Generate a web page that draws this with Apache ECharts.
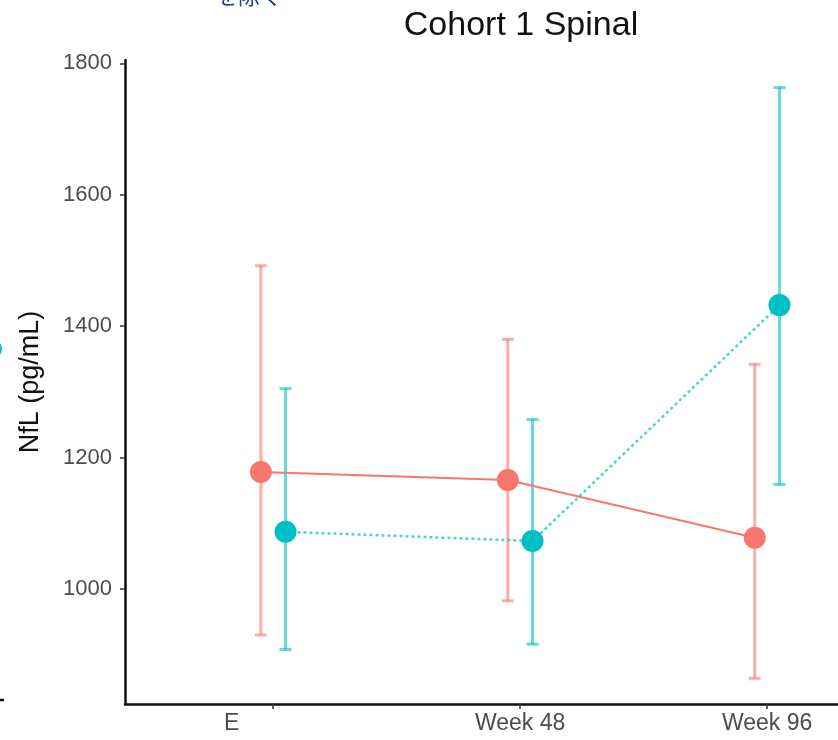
<!DOCTYPE html>
<html>
<head>
<meta charset="utf-8">
<script src="https://cdn.jsdelivr.net/npm/echarts@6/dist/echarts.min.js"></script>
<style>
    html, body { margin: 0; padding: 0; background: #fff; }
    #main { width: 838px; height: 740px; }
</style>
</head>
<body>
<div id="main"></div>
<script>
var categories = ['E', 'Week 48', 'Week 96'];
var redMean = [1178, 1166, 1078];
var redLow = [930, 982, 864];
var redHigh = [1492, 1380, 1342];
var cyanMean = [1087, 1073, 1432];
var cyanLow = [908, 916, 1159];
var cyanHigh = [1305, 1258, 1763];
var yTicks = [1000, 1200, 1400, 1600, 1800];

var RED = '#F8766D';
var CYAN = '#00BFC4';
var DODGE = 0.05;

function pairs(values, shift) {
    var out = [];
    for (var i = 0; i < values.length; i++) {
        out.push([i + shift, values[i]]);
    }
    return out;
}

function barData(low, high, shift) {
    var out = [];
    for (var i = 0; i < low.length; i++) {
        out.push([i + shift, low[i], high[i]]);
    }
    return out;
}

function errorBar(color) {
    return function (params, api) {
        var x = api.value(0);
        var lo = api.coord([x, api.value(1)]);
        var hi = api.coord([x, api.value(2)]);
        var w = 6;
        var style = { stroke: color, lineWidth: 3, fill: null };
        return {
            type: 'group',
            children: [
                { type: 'line', shape: { x1: hi[0], y1: hi[1], x2: lo[0], y2: lo[1] }, style: style },
                { type: 'line', shape: { x1: hi[0] - w, y1: hi[1], x2: hi[0] + w, y2: hi[1] }, style: style },
                { type: 'line', shape: { x1: lo[0] - w, y1: lo[1], x2: lo[0] + w, y2: lo[1] }, style: style }
            ]
        };
    };
}

var myChart = echarts.init(document.getElementById('main'));
var font = '"Liberation Sans", Arial, sans-serif';

var option = {
    animation: false,
    title: {
        text: 'Cohort 1 Spinal',
        left: 516,
        top: 4,
        textAlign: 'center',
        textStyle: { fontFamily: font, fontSize: 34, fontWeight: 'normal', color: '#111' }
    },
    graphic: [
        { type: 'text', left: 216, top: -15, style: { text: 'を除く', fontSize: 22, fill: '#1b3c8c', fontFamily: '"Noto Sans CJK JP", sans-serif' } },
        { type: 'circle', shape: { cx: -8, cy: 349, r: 10 }, style: { fill: CYAN } },
        { type: 'line', shape: { x1: 0, y1: 700, x2: 4, y2: 700 }, style: { stroke: '#111', lineWidth: 2.5 } }
    ],
    grid: { left: 125, top: 60, right: 0, height: 644, containLabel: false },
    xAxis: {
        type: 'value',
        min: -0.6,
        max: 2.287,
        splitLine: { show: false },
        axisLine: { lineStyle: { color: '#111', width: 2.5 } },
        axisTick: { customValues: [0, 1, 2], length: 5, lineStyle: { color: '#333', width: 1.5 } },
        axisLabel: {
            customValues: [0, 1, 2],
            margin: 8,
            fontFamily: font,
            fontSize: 23,
            color: '#4d4d4d',
            formatter: function (v) {
                var i = Math.round(v);
                // first label sits left of its tick in the picture
                return i === 0 ? '{first|' + categories[i] + '}' : categories[i];
            },
            rich: {
                first: { fontFamily: font, fontSize: 23, color: '#4d4d4d', padding: [0, 83, 0, 0] }
            }
        }
    },
    yAxis: {
        type: 'value',
        min: 825,
        max: 1805,
        name: 'NfL (pg/mL)',
        nameLocation: 'middle',
        nameGap: 81,
        nameTextStyle: { fontFamily: font, fontSize: 27, color: '#111' },
        splitLine: { show: false },
        axisLine: { show: true, onZero: false, lineStyle: { color: '#111', width: 2.5 } },
        axisTick: { show: true, customValues: yTicks, length: 5, lineStyle: { color: '#333', width: 1.5 } },
        axisLabel: {
            customValues: yTicks,
            margin: 13,
            fontFamily: font,
            fontSize: 22,
            color: '#4d4d4d',
            formatter: function (v) { return String(v); }
        }
    },
    series: [
        {
            type: 'custom',
            renderItem: errorBar('rgba(248,118,109,0.6)'),
            data: barData(redLow, redHigh, -DODGE),
            encode: { x: 0, y: [1, 2] },
            z: 1
        },
        {
            type: 'custom',
            renderItem: errorBar('rgba(0,191,196,0.6)'),
            data: barData(cyanLow, cyanHigh, DODGE),
            encode: { x: 0, y: [1, 2] },
            z: 1
        },
        {
            type: 'line',
            data: pairs(redMean, -DODGE),
            symbol: 'circle',
            symbolSize: 22,
            itemStyle: { color: RED },
            lineStyle: { color: RED, width: 2 },
            z: 3
        },
        {
            type: 'line',
            data: pairs(cyanMean, DODGE),
            symbol: 'circle',
            symbolSize: 22,
            itemStyle: { color: CYAN },
            lineStyle: { color: CYAN, width: 2.5, type: [3, 3], opacity: 0.7 },
            z: 3
        }
    ]
};

option && myChart.setOption(option);
</script>
</body>
</html>
